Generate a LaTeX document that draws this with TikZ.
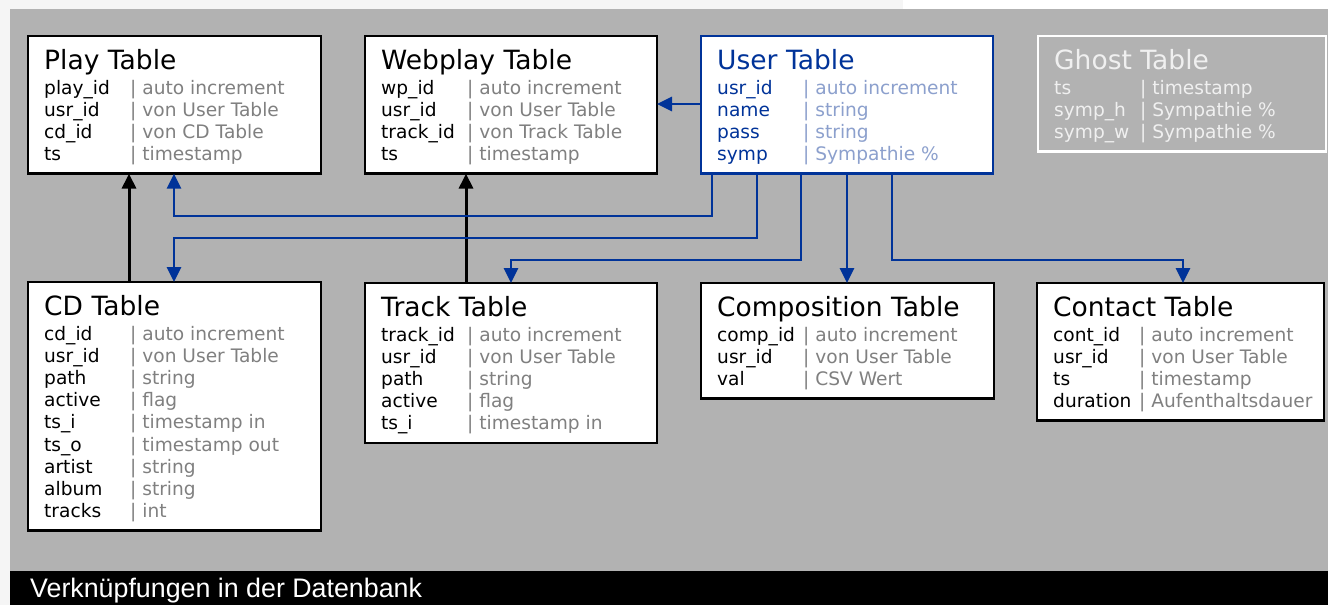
\documentclass[tikz,border=0pt]{standalone}
\usepackage{fontspec}
\setmainfont{DejaVu Sans}
\newfontfamily\capfont{Liberation Sans}
\usetikzlibrary{arrows.meta}

\definecolor{canvasgray}{RGB}{178,178,178}
\definecolor{marginwhite}{RGB}{245,245,245}
\definecolor{dbblue}{RGB}{0,51,153}
\definecolor{dbpaleblue}{RGB}{140,160,205}
\definecolor{valgray}{RGB}{128,128,128}
\definecolor{ghostwhite}{RGB}{240,240,240}

% table frame: (x,y) is the top-left corner, #4 the width, #5 the number of rows
\newcommand\dbtable[6]{%
  \node[#6, minimum width=#4, minimum height={71+22.2*(#5-1)}] (#1) at (#2,#3) {};}
% title line of a table
\newcommand\dbtitle[3]{%
  \node[titletext,#3] (#1-title) at ([shift={(16,33)}]#1.north west) {#2};}
% field rows: #2 style of the field names, #3 style of the descriptions
\newcommand\dbrows[4]{%
  \foreach \f/\v [count=\i] in {#4} {%
    \node[fieldtext,#2] (#1-f\i) at ([shift={(16,{58+22.2*(\i-1)})}]#1.north west) {\f};
    \node[fieldtext,#3] (#1-v\i) at ([shift={(102,{58+22.2*(\i-1)})}]#1.north west) {\textbar\ \v};
  }}

\begin{document}
\begin{tikzpicture}[x=1pt,y=-1pt,
  tablebox/.style={draw=black, fill=white, line width=2.4pt, rectangle,
    inner sep=0pt, outer sep=0pt, anchor=north west},
  userbox/.style={tablebox, draw=dbblue},
  ghostbox/.style={tablebox, draw=white, fill=none},
  titletext/.style={anchor=base west, inner sep=0pt, font=\fontsize{26.5}{28}\selectfont},
  fieldtext/.style={anchor=base west, inner sep=0pt, font=\fontsize{18.6}{20}\selectfont},
  namecol/.style={text=black},
  valcol/.style={text=valgray},
  blacklink/.style={draw=black, line width=3pt, -{Triangle[width=14pt,length=15pt]}},
  bluelink/.style={draw=dbblue, line width=2.8pt, -{Triangle[width=14pt,length=15pt]}}]

\useasboundingbox (0,0) rectangle (1328,605);

% background
\fill[marginwhite] (0,0) rectangle (1328,605);
\fill[white] (903,0) rectangle (1328,9);
\fill[canvasgray] (10,9) rectangle (1328,571);
\fill[black] (10,571) rectangle (1328,605);
\node[anchor=base west, inner sep=0pt, text=white,
  font=\capfont\fontsize{26.8}{28}\selectfont] (caption) at (30,597)
  {Verknüpfungen in der Datenbank};

% top row of tables
\dbtable{play}{28}{36}{293}{4}{tablebox}
\dbtitle{play}{Play Table}{}
\dbrows{play}{namecol}{valcol}{play\_id/auto increment, usr\_id/von User Table,
  cd\_id/von CD Table, ts/timestamp}

\dbtable{webplay}{365}{36}{292}{4}{tablebox}
\dbtitle{webplay}{Webplay Table}{}
\dbrows{webplay}{namecol}{valcol}{wp\_id/auto increment, usr\_id/von User Table,
  track\_id/von Track Table, ts/timestamp}

\dbtable{user}{701}{36}{292}{4}{userbox}
\dbtitle{user}{User Table}{text=dbblue}
\dbrows{user}{text=dbblue}{text=dbpaleblue}{usr\_id/auto increment, name/string,
  pass/string, symp/Sympathie \%}

\dbtable{ghost}{1038}{36}{288}{3}{ghostbox}
\dbtitle{ghost}{Ghost Table}{text=ghostwhite}
\dbrows{ghost}{text=ghostwhite}{text=ghostwhite}{ts/timestamp,
  symp\_h/Sympathie \%, symp\_w/Sympathie \%}

% bottom row of tables
\dbtable{cd}{28}{282}{293}{9}{tablebox}
\dbtitle{cd}{CD Table}{}
\dbrows{cd}{namecol}{valcol}{cd\_id/auto increment, usr\_id/von User Table,
  path/string, active/flag, ts\_i/timestamp in, ts\_o/timestamp out,
  artist/string, album/string, tracks/int}

\dbtable{track}{365}{283}{292}{5}{tablebox}
\dbtitle{track}{Track Table}{}
\dbrows{track}{namecol}{valcol}{track\_id/auto increment, usr\_id/von User Table,
  path/string, active/flag, ts\_i/timestamp in}

\dbtable{comp}{701}{283}{293}{3}{tablebox}
\dbtitle{comp}{Composition Table}{}
\dbrows{comp}{namecol}{valcol}{comp\_id/auto increment, usr\_id/von User Table,
  val/CSV Wert}

\dbtable{contact}{1037}{283}{287}{4}{tablebox}
\dbtitle{contact}{Contact Table}{}
\dbrows{contact}{namecol}{valcol}{cont\_id/auto increment, usr\_id/von User Table,
  ts/timestamp, duration/Aufenthaltsdauer}

% connection ports
\coordinate (user-o1) at ([xshift=11pt]user.south west);
\coordinate (user-o2) at ([xshift=56pt]user.south west);
\coordinate (user-o3) at ([xshift=100pt]user.south west);
\coordinate (user-o4) at ([xshift=146pt]user.south west);
\coordinate (user-o5) at ([xshift=191pt]user.south west);
\coordinate (user-w) at ([yshift=-68pt]user.north west);
\coordinate (play-in) at ([xshift=146pt]play.south west);
\coordinate (play-cd) at ([xshift=101pt]play.south west);
\coordinate (webplay-track) at ([xshift=101pt]webplay.south west);
\coordinate (cd-in) at ([xshift=146pt]cd.north west);
\coordinate (cd-out) at ([xshift=101pt]cd.north west);
\coordinate (track-in) at ([xshift=146pt]track.north west);
\coordinate (track-out) at ([xshift=101pt]track.north west);
\coordinate (contact-in) at ([xshift=146pt]contact.north west);
% routing lanes
\coordinate (laneA) at (0,216);
\coordinate (laneB) at (0,238);
\coordinate (laneC) at (0,260);

% links between the tables
\draw[blacklink] (cd-out) -- (play-cd);
\draw[blacklink] (track-out) -- (webplay-track);
\draw[bluelink] (user-w) -- (user-w -| webplay.east);
\draw[bluelink] (user-o1) |- (play-in |- laneA) -- (play-in);
\draw[bluelink] (user-o2) |- (cd-in |- laneB) -- (cd-in);
\draw[bluelink] (user-o3) |- (track-in |- laneC) -- (track-in);
\draw[bluelink] (user-o4) -- (user-o4 |- comp.north);
\draw[bluelink] (user-o5) |- (contact-in |- laneC) -- (contact-in);
\end{tikzpicture}
\end{document}
